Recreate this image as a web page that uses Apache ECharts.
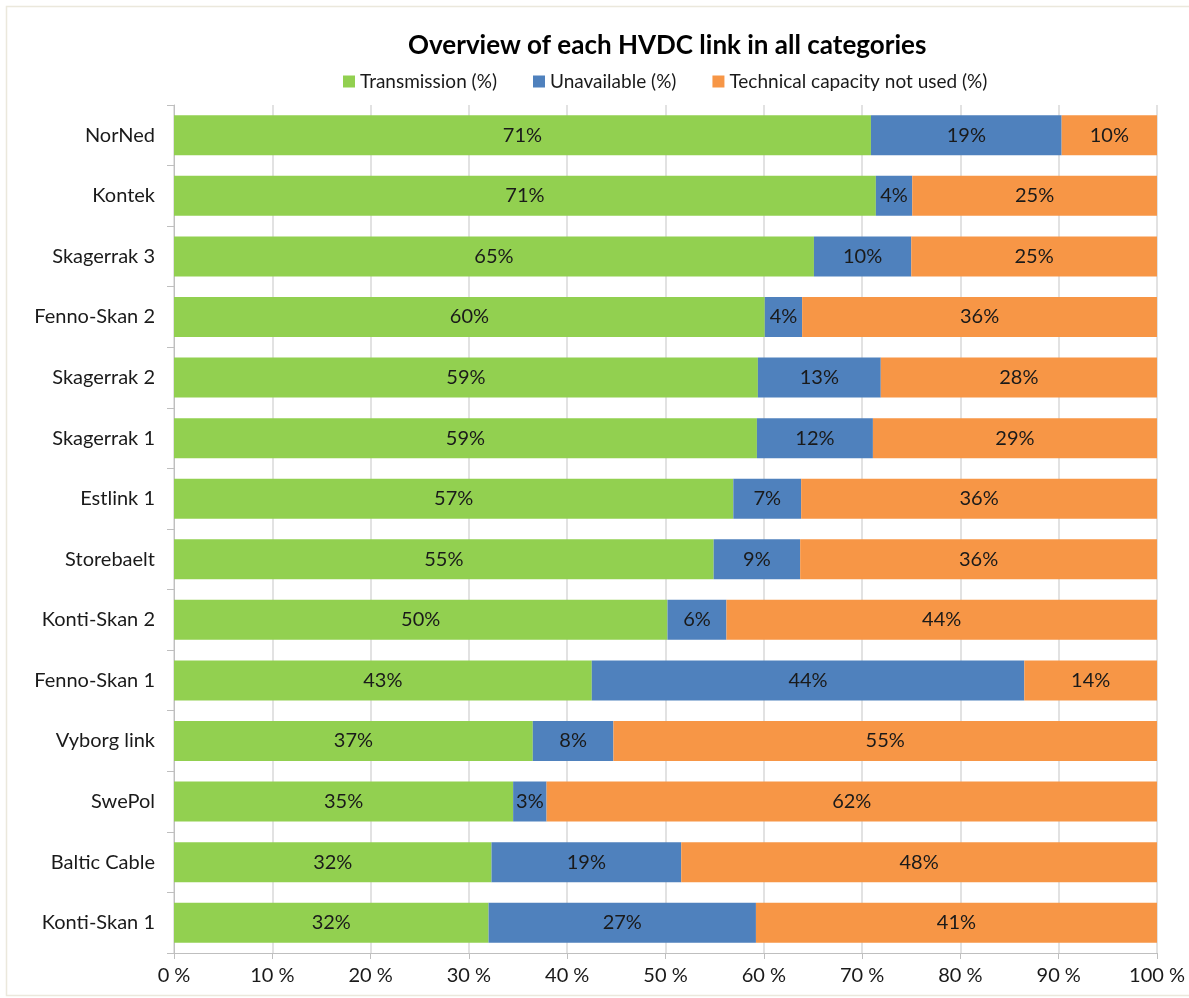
<!DOCTYPE html>
<html>
<head>
<meta charset="utf-8">
<script src="https://cdn.jsdelivr.net/npm/echarts@6/dist/echarts.min.js"></script>
<style>html,body{margin:0;padding:0;background:#fff}#c{width:1189px;height:998px}</style>
</head>
<body>
<div id="c"></div>
<script>
const categories = ["NorNed","Kontek","Skagerrak 3","Fenno-Skan 2","Skagerrak 2","Skagerrak 1","Estlink 1","Storebaelt","Konti-Skan 2","Fenno-Skan 1","Vyborg link","SwePol","Baltic Cable","Konti-Skan 1"];
const transmission = [70.9,71.4,65.1,60.1,59.4,59.3,56.9,54.9,50.2,42.5,36.5,34.5,32.3,32.0];
const unavailable  = [19.4,3.7,9.9,3.8,12.5,11.8,6.9,8.8,6.0,44.0,8.2,3.4,19.3,27.2];
const notUsed      = [9.7,24.9,25.0,36.1,28.1,28.9,36.2,36.3,43.8,13.5,55.3,62.1,48.4,40.8];
const seriesNames = ["Transmission (%)","Unavailable (%)","Technical capacity not used (%)"];
const colors = ["#92D050","#4F81BD","#F79646"];
const FONT = "Lato, 'Open Sans', sans-serif";

const chart = echarts.init(document.getElementById('c'));
const cats = categories.slice().reverse();
const datas = [transmission, unavailable, notUsed].map(a => a.slice().reverse());
chart.setOption({
  animation: false,
  backgroundColor: '#fff',
  graphic: [{type:'rect', shape:{x:6.5,y:6.5,width:1200,height:989}, style:{fill:'none', stroke:'#ebe8dc', lineWidth:1.5}, silent:true}],
  title: {text:'Overview of each HVDC link in all categories', left:403, top:28,
    textStyle:{fontFamily:FONT, fontSize:26, fontWeight:'bold', color:'#000'}},
  legend: {top:67, left:338, itemWidth:12, itemHeight:12, itemGap:36, icon:'rect',
    textStyle:{fontFamily:FONT, fontSize:19, color:'#1a1a1a'}, data: seriesNames},
  grid: {left:174, right:32, top:105, bottom:45, containLabel:false},
  xAxis: {type:'value', min:0, max:100, interval:10,
    axisLabel:{formatter:'{value} %', fontFamily:FONT, fontSize:20, color:'#1a1a1a', margin:13},
    axisLine:{show:true, lineStyle:{color:'#bfbfbf'}},
    axisTick:{show:true, length:6, lineStyle:{color:'#bfbfbf'}},
    splitLine:{show:true, lineStyle:{color:'#d9d9d9', width:1.5}}},
  yAxis: {type:'category', data:cats,
    axisLabel:{fontFamily:FONT, fontSize:20, color:'#1a1a1a', margin:19},
    axisLine:{show:true, lineStyle:{color:'#bfbfbf'}},
    axisTick:{show:true, length:7, lineStyle:{color:'#bfbfbf'}}},
  series: datas.map((d,i)=>({
    name: seriesNames[i], type:'bar', stack:'all', data:d, barCategoryGap:'34%',
    itemStyle:{color:colors[i]},
    label:{show:true, position:'inside', formatter:p=>Math.round(p.value)+'%',
      fontFamily:FONT, fontSize:20, color:'#1a1a1a'}
  }))
});
</script>
</body>
</html>
